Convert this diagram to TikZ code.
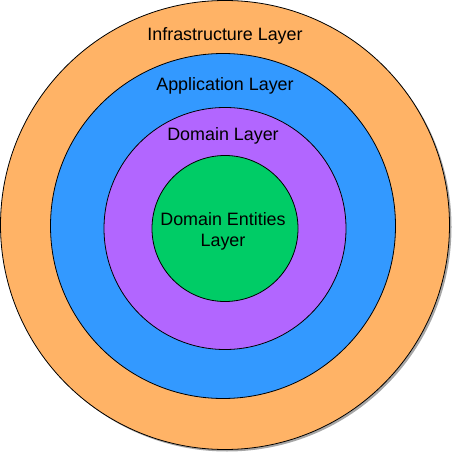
\documentclass[tikz,border=0pt]{standalone}
\usepackage{fontspec}
\setmainfont{Liberation Sans}
\usetikzlibrary{shadows}

\definecolor{infraorange}{HTML}{FFB366}
\definecolor{appblue}{HTML}{3399FF}
\definecolor{domainpurple}{HTML}{B266FF}
\definecolor{entitygreen}{HTML}{00CC66}

\begin{document}
\begin{tikzpicture}[
        x=1pt, y=-1pt,
        font=\fontsize{17.9}{21}\selectfont,
        every node/.style={align=center},
        layer/.style={circle, draw=black, line width=0.8pt, inner sep=0pt},
        layertext/.style={inner sep=0pt}
    ]

        % --- Rahmen ---
        \useasboundingbox (0,0) rectangle (453,454);

        % --- Mittelpunkt ---
        \def\cx{225}
        \def\cy{226}

        % --- Kreise (von aussen nach innen) ---
        \node[layer, fill=infraorange, minimum size=449pt,
              drop shadow={shadow xshift=2pt, shadow yshift=-2pt, fill=black!35, opacity=1}]
              (infra) at (\cx, 225) {};
        \node[layer, fill=appblue, minimum size=345pt] (app) at (223, \cy) {};
        \node[layer, fill=domainpurple, minimum size=242pt] (domain) at (\cx, 228.5) {};
        \node[layer, fill=entitygreen, minimum size=146pt] (entity) at (\cx, 228.5) {};

        % --- Beschriftungen ---
        \node[layertext] (infraText) at (\cx, 35.5) {Infrastructure Layer};
        \node[layertext] (appText) at (\cx, 85.5) {Application Layer};
        \node[layertext] (domainText) at (223, 135.5) {Domain Layer};
        \node[layertext] (entityText) at (223, 231) {Domain Entities\\Layer};

    \end{tikzpicture}
\end{document}
